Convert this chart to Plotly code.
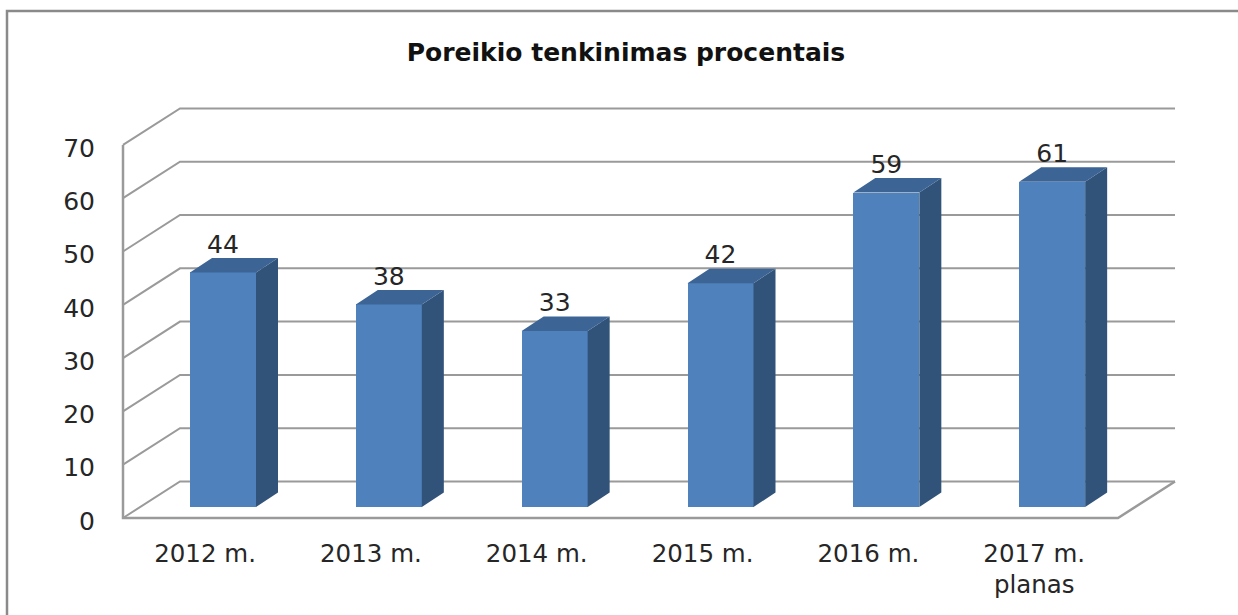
import plotly.graph_objects as go

categories = ["2012 m.", "2013 m.", "2014 m.", "2015 m.", "2016 m.", "2017 m.<br>planas"]
values = [44, 38, 33, 42, 59, 61]
y_ticks = [0, 10, 20, 30, 40, 50, 60, 70]
title_text = "Poreikio tenkinimas procentais"

W, H = 1238, 615
# plot window in page pixels; value 0 / category 0 sit at X0, Y0
L, R, T, B = 113, 1190, 98, 528
X0, Y0 = 123, 518
XU = (1118 - 123) / 6      # px per category
YU = 53.3 / 10             # px per value unit
wall_dx = 57 / XU
wall_dy = 36.5 / YU
bar_w = 66 / XU
bar_c = [i + 0.603 for i in range(len(values))]
bar_base = 11 / YU
dep_x = 22 / XU
dep_y = 14.5 / YU
n = len(values)
GRID = "#9a9a9a"
FRONT, SIDE, TOP = "#4F81BD", "#325379", "#3C6495"
FONT = "DejaVu Sans"
TXT = "#262626"

fig = go.Figure()

# front faces
fig.add_trace(go.Bar(x=bar_c, y=values, base=bar_base, width=bar_w, showlegend=False,
                     marker=dict(color=FRONT, line=dict(width=0)), hoverinfo="skip"))

# side and top faces
sx, sy, tx, ty = [], [], [], []
for c, v in zip(bar_c, values):
    l, r = c - bar_w / 2, c + bar_w / 2
    y0, y1 = bar_base, bar_base + v
    sx += [r, r + dep_x, r + dep_x, r, r, None]
    sy += [y0, y0 + dep_y, y1 + dep_y, y1, y0, None]
    tx += [l, l + dep_x, r + dep_x, r, l, None]
    ty += [y1, y1 + dep_y, y1 + dep_y, y1, y1, None]
for xs, ys, col in ((sx, sy, SIDE), (tx, ty, TOP)):
    fig.add_trace(go.Scatter(x=xs, y=ys, mode="lines", fill="toself", fillcolor=col,
                             line=dict(width=0, color=col), hoverinfo="skip", showlegend=False))

# value labels
fig.add_trace(go.Scatter(x=bar_c, y=[bar_base + v + 26 / YU for v in values], mode="text",
                         text=[str(v) for v in values], textposition="middle center",
                         textfont=dict(family=FONT, size=25, color=TXT), cliponaxis=False,
                         hoverinfo="skip", showlegend=False))

fig.update_layout(
    width=W, height=H, margin=dict(l=L, r=W - R, t=T, b=H - B, pad=0, autoexpand=False),
    paper_bgcolor="white", plot_bgcolor="white", showlegend=False, bargap=0,
    title=dict(text="<b>" + title_text + "</b>", x=626 / W, xanchor="center", y=1 - 52 / H, yanchor="middle",
               font=dict(family=FONT, size=25, color="#111111")),
    xaxis=dict(range=[(L - X0) / XU, (R - X0) / XU], tickmode="array",
               tickvals=[i + 0.495 for i in range(n)],
               ticktext=categories, showgrid=False, zeroline=False, showline=False, ticks="",
               ticklabelstandoff=8, tickfont=dict(family=FONT, size=24.5, color=TXT)),
    yaxis=dict(range=[(Y0 - B) / YU, (Y0 - T) / YU], tickmode="array", tickvals=y_ticks, showgrid=False,
               zeroline=False, showline=False, ticks="", ticklabelstandoff=17, ticklabelshift=3,
               tickfont=dict(family=FONT, size=25, color=TXT)),
)


def line_shape(path, width):
    fig.add_shape(type="path", xref="x", yref="y", path=path, layer="below",
                  line=dict(color=GRID, width=width))


# walls and floor, behind the bars
for t in y_ticks:
    line_shape(f"M 0 {t} L {wall_dx} {t + wall_dy} L {n + wall_dx} {t + wall_dy}", 2)
line_shape(f"M 0 70 L 0 0 L {n} 0 L {n + wall_dx} {wall_dy}", 2.5)

# outer frame, open at the right and bottom page edges
px = lambda v: (v - L) / (R - L)
py = lambda v: (B - v) / (B - T)
fig.add_shape(type="path", xref="paper", yref="paper",
              path=f"M {px(7)} {py(H + 5)} L {px(7)} {py(11)} L {px(W + 5)} {py(11)}",
              line=dict(color="#8a8a8a", width=2.5), layer="below")

fig.write_html("out.html", config={"displayModeBar": False},
               post_script="document.body.style.margin='0';")
